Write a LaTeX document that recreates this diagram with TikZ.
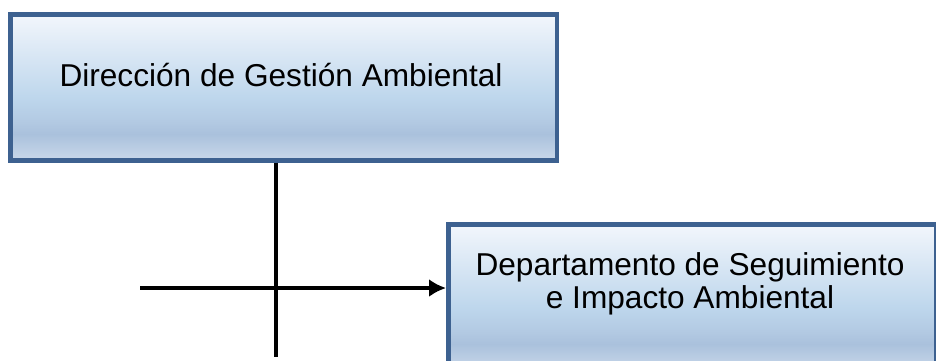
\documentclass[tikz,border=0pt]{standalone}
\usepackage{fontspec}
\setmainfont{Liberation Sans}
\usetikzlibrary{positioning,arrows.meta}
\definecolor{boxline}{HTML}{3D6190}
\definecolor{shTop}{HTML}{F2F6FC}
\definecolor{shMid}{HTML}{BDD6EC}
\definecolor{shLow}{HTML}{B3CAE3}
\definecolor{shBand}{HTML}{AAC1DC}
\definecolor{shBot}{HTML}{C9D8EA}
\pgfdeclareverticalshading{orgfill}{100bp}{color(0bp)=(shBot); color(25bp)=(shBot); color(34bp)=(shBand); color(38.5bp)=(shLow); color(46bp)=(shMid); color(75bp)=(shTop); color(100bp)=(shTop)}
\begin{document}
\begin{tikzpicture}[x=0.02cm, y=-0.02cm, >={Latex[length=3.4mm,width=3.6mm]},
    every node/.style={font=\fontsize{18}{19}\selectfont},
    orgbox/.style={draw=boxline, line width=2.6pt, shading=orgfill,
        minimum height=2.92cm, inner sep=0pt},
    conn/.style={line width=2.8pt, black}]
    \clip (0,0) rectangle (936,360);
    \fill[white] (0,0) rectangle (936,360);
    \node[orgbox, minimum width=10.94cm, anchor=north west] (dir) at (8,12) {};
    \node (dirtxt) at (281,75) {Dirección de Gestión Ambiental};
    \node[orgbox, minimum width=9.76cm, anchor=north west] (dep) at (446,222) {};
    \node[align=center] (deptxt) at (690,284) {Departamento de Seguimiento\\e Impacto Ambiental};
    \coordinate (vbot) at (276,357);
    \coordinate (hstart) at (140,288);
    % connectors
    \draw[conn] (vbot |- dir.south) -- (vbot);
    \draw[conn,->] (hstart) -- (hstart -| dep.west);
\end{tikzpicture}
\end{document}
